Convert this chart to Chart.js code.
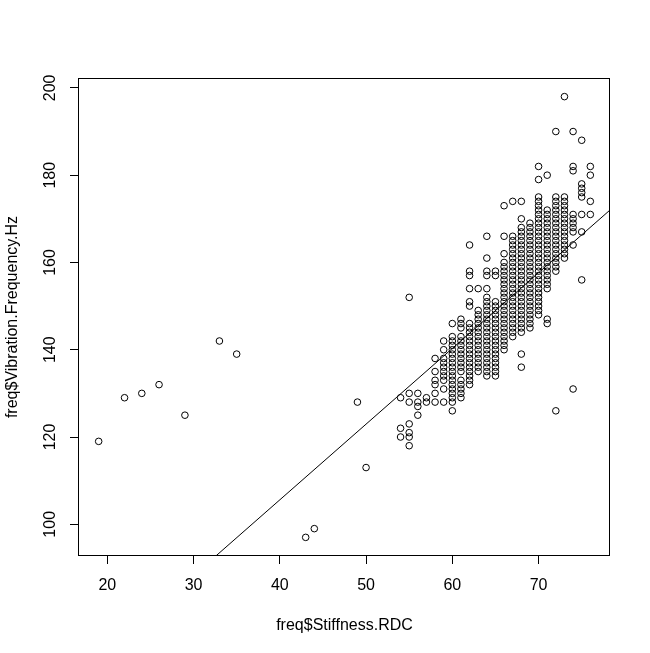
<!DOCTYPE html>
<html>
<head>
<meta charset="utf-8">
<script src="https://cdn.jsdelivr.net/npm/chart.js@4.4.1/dist/chart.umd.min.js"></script>
<style>
  html, body { margin: 0; padding: 0; background: #fff; }
  #wrap { width: 650px; height: 653px; }
</style>
</head>
<body>
<div id="wrap"><canvas id="chartScatter" width="650" height="653"></canvas></div>
<script>
(function () {
  "use strict";

  // scattered points away from the main cloud
  var outlierX = [19, 22, 24, 26, 29, 33, 35, 43, 44, 49, 50];
  var outlierY = [119, 129, 130, 132, 125, 142, 139, 97, 99, 128, 113];

  // stiffness columns and the frequencies stacked in each one
  var colX = [54, 55, 56, 57, 58, 59, 60, 61, 62, 63, 64, 65, 66, 67, 68, 69, 70, 71, 72, 73, 74, 75, 76];
  var colY = [
    [129, 122, 120],
    [152, 130, 128, 123, 121, 120, 118],
    [130, 128, 127, 125],
    [129, 128],
    [138, 135, 133, 132, 130, 128],
    [142, 140, 138, 137, 136, 135, 134, 133, 131, 128],
    [146, 143, 142, 141, 140, 139, 138, 137, 136, 135, 134, 133, 132, 131, 130, 129, 128, 126],
    [147, 146, 145, 143, 142, 141, 140, 139, 138, 137, 136, 135, 133, 132, 131, 130, 129],
    [164, 158, 157, 154, 151, 150, 146, 145, 144, 143, 142, 141, 140, 139, 138, 137, 136, 135, 134, 133, 132],
    [154, 149, 148, 147, 146, 145, 144, 143, 142, 141, 140, 139, 138, 137, 136, 135],
    [166, 161, 158, 157, 154, 152, 151, 150, 149, 148, 147, 146, 145, 144, 143, 142, 141, 140, 139, 138, 137, 136, 135, 134],
    [158, 157, 151, 150, 149, 148, 147, 146, 145, 144, 143, 142, 141, 140, 139, 138, 137, 136, 135, 134],
    [173, 166, 162, 160, 159, 158, 157, 156, 155, 154, 153, 152, 151, 150, 149, 148, 147, 146, 145, 144, 143, 142, 141, 140],
    [174, 166, 165, 164, 163, 162, 161, 160, 159, 158, 157, 156, 155, 154, 153, 152, 151, 150, 149, 148, 147, 146, 145, 144, 143],
    [174, 170, 168, 167, 166, 165, 164, 163, 162, 161, 160, 159, 158, 157, 156, 155, 154, 153, 152, 151, 150, 149, 148, 147, 146, 145, 144, 139, 136],
    [169, 168, 167, 166, 165, 164, 163, 162, 161, 160, 159, 158, 157, 156, 155, 154, 153, 152, 151, 150, 149, 148, 147, 146, 145],
    [182, 179, 175, 174, 173, 172, 171, 170, 169, 168, 167, 166, 165, 164, 163, 162, 161, 160, 159, 158, 157, 156, 155, 154, 153, 152, 151, 150, 149, 148],
    [180, 172, 171, 170, 169, 168, 167, 166, 165, 164, 163, 162, 161, 160, 159, 158, 157, 156, 155, 154, 147, 146],
    [190, 175, 174, 173, 172, 171, 170, 169, 168, 167, 166, 165, 164, 163, 162, 161, 160, 159, 158, 126],
    [198, 175, 174, 173, 172, 171, 170, 169, 168, 167, 166, 165, 164, 163, 162, 161],
    [190, 182, 181, 171, 170, 169, 168, 167, 164, 131],
    [188, 178, 177, 176, 175, 171, 167, 156],
    [182, 180, 174, 171]
  ];

  var xTicks = [20, 30, 40, 50, 60, 70];
  var yTicks = [100, 120, 140, 160, 180, 200];

  // lm(Vibration.Frequency.Hz ~ Stiffness.RDC)
  var fitIntercept = 36.2;
  var fitSlope = 1.735;

  var xLabel = "freq$Stiffness.RDC";
  var yLabel = "freq$Vibration.Frequency.Hz";

  var points = [];
  outlierX.forEach(function (x, i) {
    points.push({ x: x, y: outlierY[i] });
  });
  colX.forEach(function (x, i) {
    colY[i].forEach(function (y) {
      points.push({ x: x, y: y });
    });
  });

  // R style axis range: data range stretched by 4% on each side
  var xs = points.map(function (p) { return p.x; });
  var ys = points.map(function (p) { return p.y; });
  var xMin = Math.min.apply(null, xs), xMax = Math.max.apply(null, xs);
  var yMin = Math.min.apply(null, ys), yMax = Math.max.apply(null, ys);
  var xPad = (xMax - xMin) * 0.04, yPad = (yMax - yMin) * 0.04;
  var xLo = xMin - xPad, xHi = xMax + xPad;
  var yLo = yMin - yPad, yHi = yMax + yPad;

  var fitLine = [
    { x: xLo, y: fitIntercept + fitSlope * xLo },
    { x: xHi, y: fitIntercept + fitSlope * xHi }
  ];

  var FONT = "16px 'Liberation Sans', Arial, sans-serif";

  var rFrame = {
    id: "rFrame",
    afterDraw: function (chart) {
      var ctx = chart.ctx;
      var ca = chart.chartArea;
      var sx = chart.scales.x, sy = chart.scales.y;
      ctx.save();
      ctx.strokeStyle = "#000";
      ctx.lineWidth = 1;
      var l = Math.floor(ca.left) - 0.5, t = Math.floor(ca.top) - 0.5;
      var r = Math.floor(ca.right) - 0.5, b = Math.floor(ca.bottom) + 0.5;
      ctx.strokeRect(l, t, r - l, b - t);

      ctx.fillStyle = "#000";
      ctx.font = FONT;
      ctx.textAlign = "center";
      ctx.textBaseline = "alphabetic";
      sx.ticks.forEach(function (tk) {
        ctx.fillText(String(tk.value), sx.getPixelForValue(tk.value), 590);
      });
      ctx.fillText(xLabel, (ca.left + ca.right) / 2, 629.5);

      sy.ticks.forEach(function (tk) {
        ctx.save();
        ctx.translate(55, sy.getPixelForValue(tk.value));
        ctx.rotate(-Math.PI / 2);
        ctx.fillText(String(tk.value), 0, 0);
        ctx.restore();
      });
      ctx.translate(16.6, (ca.top + ca.bottom) / 2);
      ctx.rotate(-Math.PI / 2);
      ctx.fillText(yLabel, 0, 0);
      ctx.restore();
    }
  };

  var ctx = document.getElementById("chartScatter").getContext("2d");
  var chart = new Chart(ctx, {
    type: "scatter",
    data: {
      datasets: [
        {
          label: "fit",
          type: "line",
          data: fitLine,
          borderColor: "#000",
          borderWidth: 1,
          pointRadius: 0,
          fill: false,
          tension: 0
        },
        {
          label: "freq",
          data: points,
          pointStyle: "circle",
          pointRadius: 3.3,
          pointBorderWidth: 1,
          borderColor: "#000",
          backgroundColor: "rgba(0,0,0,0)",
          showLine: false
        }
      ]
    },
    options: {
      responsive: false,
      animation: false,
      devicePixelRatio: 1,
      events: [],
      layout: {
        padding: { top: 79, right: 40, left: 0, bottom: 0 }
      },
      plugins: {
        legend: { display: false },
        tooltip: { enabled: false }
      },
      scales: {
        x: {
          type: "linear",
          min: xLo,
          max: xHi,
          afterBuildTicks: function (axis) {
            axis.ticks = xTicks.map(function (v) { return { value: v }; });
          },
          afterFit: function (axis) {
            axis.height = 98;
          },
          ticks: { display: false },
          border: { display: false },
          grid: {
            drawOnChartArea: false,
            drawTicks: true,
            tickLength: 9,
            tickColor: "#000",
            lineWidth: 1
          }
        },
        y: {
          type: "linear",
          min: yLo,
          max: yHi,
          afterBuildTicks: function (axis) {
            axis.ticks = yTicks.map(function (v) { return { value: v }; });
          },
          afterFit: function (axis) {
            axis.width = 79;
          },
          ticks: { display: false },
          border: { display: false },
          grid: {
            drawOnChartArea: false,
            drawTicks: true,
            tickLength: 9,
            tickColor: "#000",
            lineWidth: 1
          }
        }
      }
    },
    plugins: [rFrame]
  });
})();
</script>
</body>
</html>
